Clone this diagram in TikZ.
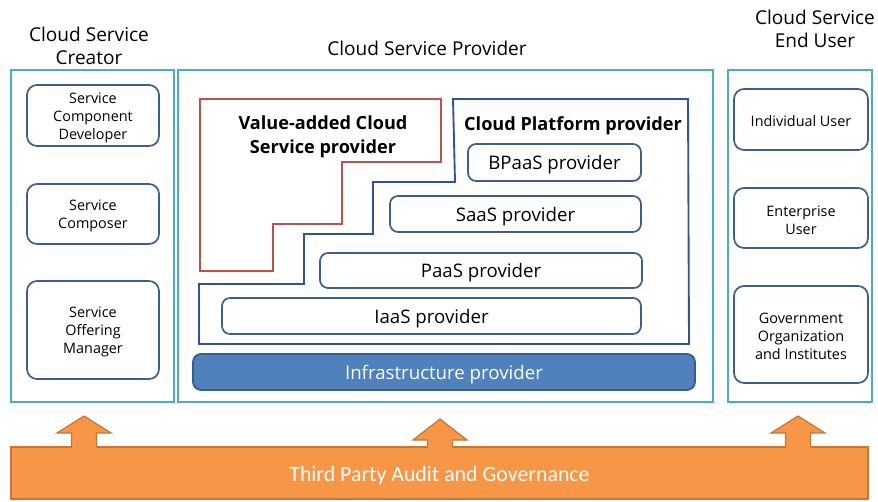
\documentclass[tikz,border=0pt]{standalone}
\usepackage{fontspec}
\setmainfont{Open Sans}
\newfontfamily\barfont{Carlito}
\usetikzlibrary{fit}

\definecolor{groupline}{HTML}{4BACC6}
\definecolor{roleline}{HTML}{3E5F8E}
\definecolor{platline}{HTML}{2F5496}
\definecolor{vasline}{HTML}{C0504D}
\definecolor{infrafill}{HTML}{4F81BD}
\definecolor{infraline}{HTML}{385D8A}
\definecolor{auditfill}{HTML}{F79646}
\definecolor{auditline}{HTML}{C47636}

\tikzset{
  groupbox/.style={draw=groupline, line width=1.5pt, inner sep=0pt},
  rolebox/.style={draw=roleline, line width=1.3pt, rounded corners=7.5pt, inner sep=0pt},
  roletext/.style={align=center, inner sep=0pt, yshift=-1.5pt,
    font=\fontsize{10.8}{13.5}\selectfont},
  layerbox/.style={draw=roleline, line width=1.3pt, rounded corners=6pt, inner sep=0pt},
  layertext/.style={inner sep=0pt, yshift=-1.8pt, font=\fontsize{14}{17}\selectfont},
  grouptitle/.style={align=center, font=\fontsize{14.3}{17.3}\selectfont},
  boldtitle/.style={align=center, font=\fontsize{13.6}{18}\selectfont\bfseries},
  uparrow/.style={fill=auditfill},
  uparrowline/.style={draw=auditline, line width=0.9pt, line join=miter},
}

\begin{document}
\begin{tikzpicture}[x=0.75pt, y=-0.75pt]
\useasboundingbox (0,0) rectangle (878,501);

% ---- three stakeholder groups ----
\node[groupbox, fit={(11,70) (174,402)}] (creator) {};
\node[groupbox, fit={(178,70) (713,402)}] (provider) {};
\node[groupbox, fit={(728,70) (872,402)}] (enduser) {};

\node[grouptitle] (creatortitle) at (89,45.5) {Cloud Service\\Creator};
\node[grouptitle] (providertitle) at (427,48) {Cloud Service Provider};
\node[grouptitle] (endusertitle) at (815,29) {Cloud Service\\End User};

% ---- creator roles ----
\node[rolebox, fit={(27,85) (159,146)}] (developer) {};
\node[roletext] at (developer) {Service\\Component\\Developer};
\node[rolebox, fit={(27,184) (159,244)}] (composer) {};
\node[roletext] at (composer) {Service\\Composer};
\node[rolebox, fit={(27,281) (159,379)}] (offering) {};
\node[roletext] at (offering) {Service\\Offering\\Manager};

% ---- end user roles ----
\node[rolebox, fit={(734,89) (868,150)}] (individual) {};
\node[roletext] at (individual) {Individual User};
\node[rolebox, fit={(734,188) (868,248)}] (enterprise) {};
\node[roletext] at (enterprise) {Enterprise\\User};
\node[rolebox, fit={(734,286) (868,383)}] (government) {};
\node[roletext] at (government) {Government\\Organization\\and Institutes};

% ---- value-added cloud service provider (stepped outline) ----
\draw[vasline, line width=1.4pt, line join=miter]
  (200,99) -- (441,99) -- (441,162) -- (342,162) -- (342,224) -- (273,224)
  -- (273,271) -- (200,271) -- cycle;
\node[boldtitle] (vastitle) at (323,137) {Value-added Cloud\\Service provider};

% ---- cloud platform provider (stepped outline) ----
\draw[platline, line width=1.4pt, line join=miter]
  (453,99) -- (688,99) -- (689,344) -- (199,344) -- (199,284) -- (304,284)
  -- (304,234) -- (373,234) -- (373,182) -- (455,182) -- cycle;
\node[boldtitle] (cpptitle) at (573,126) {Cloud Platform provider};

% ---- service layers ----
\node[layerbox, fit={(468,144) (641,181)}] (bpaas) {};
\node[layertext] at (bpaas) {BPaaS provider};
\node[layerbox, fit={(390,196) (641,232)}] (saas) {};
\node[layertext] at (saas) {SaaS provider};
\node[layerbox, fit={(320,253) (642,288)}] (paas) {};
\node[layertext] at (paas) {PaaS provider};
\node[layerbox, fit={(222,298) (641,334)}] (iaas) {};
\node[layertext] at (iaas) {IaaS provider};

\node[layerbox, fill=infrafill, draw=infraline, fit={(193,354) (695,390)}] (infra) {};
\node[layertext, text=white] at (infra) {Infrastructure provider};

% ---- third party audit bar with its three arrows ----
\node[fill=auditfill, draw=auditline, line width=0.9pt, inner sep=0pt,
  fit={(11,447) (868,499)}] (audit) {};
\node[text=white, inner sep=0pt, yshift=-2pt, font=\barfont\fontsize{16.4}{20}\selectfont]
  at (audit) {Third Party Audit and Governance};

\foreach \cx/\tip/\arm in {84/416/433, 440/419/440, 798/416/433}{
  \fill[uparrow] (\cx-12.5,448.5) -- (\cx-12.5,\arm) -- (\cx-27,\arm) -- (\cx,\tip)
    -- (\cx+27,\arm) -- (\cx+12.5,\arm) -- (\cx+12.5,448.5) -- cycle;
  \draw[uparrowline] (\cx-12.5,447) -- (\cx-12.5,\arm) -- (\cx-27,\arm) -- (\cx,\tip)
    -- (\cx+27,\arm) -- (\cx+12.5,\arm) -- (\cx+12.5,447);
}
\end{tikzpicture}
\end{document}
